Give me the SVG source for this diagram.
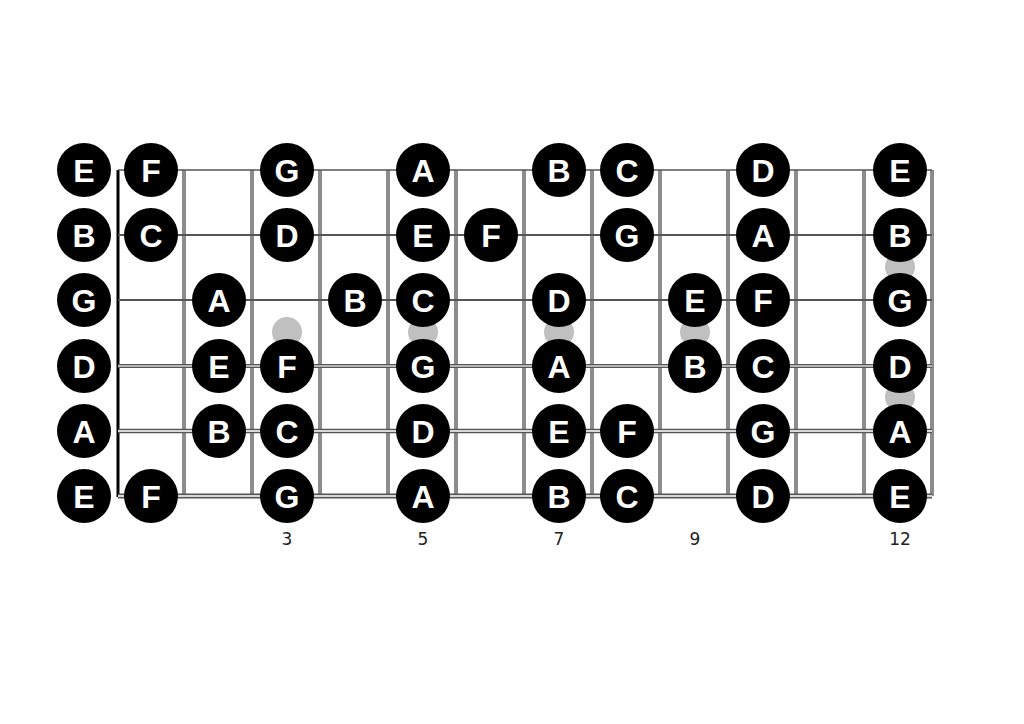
<svg xmlns="http://www.w3.org/2000/svg" width="1024" height="724" viewBox="0 0 1024 724">
<style>
.fret{stroke:#8c8c8c;stroke-width:4}
.str{stroke:#555;fill:none}
.core{stroke:#d8d8d8;fill:none}
.inlay{fill:#c0c0c0}
.note circle{fill:#000}
.note text{fill:#fff;font-family:"Liberation Sans",Arial,sans-serif;font-weight:bold;font-size:32px;text-anchor:middle}
.num{fill:#222;font-family:"DejaVu Sans",Verdana,sans-serif;font-size:17px;text-anchor:middle}
</style>
<rect width="1024" height="724" fill="#fff"/>
<g id="fretboard">
<g id="frets">
<line class="fret" x1="184" y1="170" x2="184" y2="496"/>
<line class="fret" x1="252" y1="170" x2="252" y2="496"/>
<line class="fret" x1="320" y1="170" x2="320" y2="496"/>
<line class="fret" x1="388" y1="170" x2="388" y2="496"/>
<line class="fret" x1="456" y1="170" x2="456" y2="496"/>
<line class="fret" x1="524" y1="170" x2="524" y2="496"/>
<line class="fret" x1="592" y1="170" x2="592" y2="496"/>
<line class="fret" x1="660" y1="170" x2="660" y2="496"/>
<line class="fret" x1="728" y1="170" x2="728" y2="496"/>
<line class="fret" x1="796" y1="170" x2="796" y2="496"/>
<line class="fret" x1="864" y1="170" x2="864" y2="496"/>
<line class="fret" x1="932" y1="170" x2="932" y2="496"/>
</g>
<line id="nut" x1="118" y1="170" x2="118" y2="497" stroke="#000" stroke-width="3"/>
<g id="inlays">
<circle class="inlay" cx="287" cy="332" r="15"/>
<circle class="inlay" cx="423" cy="332" r="15"/>
<circle class="inlay" cx="559" cy="332" r="15"/>
<circle class="inlay" cx="695" cy="332" r="15"/>
<circle class="inlay" cx="900" cy="267" r="15"/>
<circle class="inlay" cx="900" cy="397" r="15"/>
</g>
<g id="strings">
<line class="str" x1="118" y1="170" x2="932" y2="170" stroke-width="1.6"/>
<line class="str" x1="118" y1="235" x2="932" y2="235" stroke-width="1.8"/>
<line class="str" x1="118" y1="300" x2="932" y2="300" stroke-width="2.2"/>
<line class="str" x1="118" y1="366" x2="932" y2="366" stroke-width="4"/>
<line class="core" x1="118" y1="366" x2="932" y2="366" stroke-width="1.4"/>
<line class="str" x1="118" y1="431" x2="932" y2="431" stroke-width="4.4"/>
<line class="core" x1="118" y1="431" x2="932" y2="431" stroke-width="1.8"/>
<line class="str" x1="118" y1="496" x2="932" y2="496" stroke-width="5"/>
<line class="core" x1="118" y1="496" x2="932" y2="496" stroke-width="2.2"/>
</g>
</g>
<g id="notes">
<g id="s1">
<g class="note" id="n1-0"><circle cx="84" cy="170" r="27"/><text x="84" y="181.5">E</text></g>
<g class="note" id="n1-1"><circle cx="151" cy="170" r="27"/><text x="151" y="181.5">F</text></g>
<g class="note" id="n1-3"><circle cx="287" cy="170" r="27"/><text x="287" y="181.5">G</text></g>
<g class="note" id="n1-5"><circle cx="423" cy="170" r="27"/><text x="423" y="181.5">A</text></g>
<g class="note" id="n1-7"><circle cx="559" cy="170" r="27"/><text x="559" y="181.5">B</text></g>
<g class="note" id="n1-8"><circle cx="627" cy="170" r="27"/><text x="627" y="181.5">C</text></g>
<g class="note" id="n1-10"><circle cx="763" cy="170" r="27"/><text x="763" y="181.5">D</text></g>
<g class="note" id="n1-12"><circle cx="900" cy="170" r="27"/><text x="900" y="181.5">E</text></g>
</g>
<g id="s2">
<g class="note" id="n2-0"><circle cx="84" cy="235" r="27"/><text x="84" y="246.5">B</text></g>
<g class="note" id="n2-1"><circle cx="151" cy="235" r="27"/><text x="151" y="246.5">C</text></g>
<g class="note" id="n2-3"><circle cx="287" cy="235" r="27"/><text x="287" y="246.5">D</text></g>
<g class="note" id="n2-5"><circle cx="423" cy="235" r="27"/><text x="423" y="246.5">E</text></g>
<g class="note" id="n2-6"><circle cx="491" cy="235" r="27"/><text x="491" y="246.5">F</text></g>
<g class="note" id="n2-8"><circle cx="627" cy="235" r="27"/><text x="627" y="246.5">G</text></g>
<g class="note" id="n2-10"><circle cx="763" cy="235" r="27"/><text x="763" y="246.5">A</text></g>
<g class="note" id="n2-12"><circle cx="900" cy="235" r="27"/><text x="900" y="246.5">B</text></g>
</g>
<g id="s3">
<g class="note" id="n3-0"><circle cx="84" cy="300" r="27"/><text x="84" y="311.5">G</text></g>
<g class="note" id="n3-2"><circle cx="219" cy="300" r="27"/><text x="219" y="311.5">A</text></g>
<g class="note" id="n3-4"><circle cx="355" cy="300" r="27"/><text x="355" y="311.5">B</text></g>
<g class="note" id="n3-5"><circle cx="423" cy="300" r="27"/><text x="423" y="311.5">C</text></g>
<g class="note" id="n3-7"><circle cx="559" cy="300" r="27"/><text x="559" y="311.5">D</text></g>
<g class="note" id="n3-9"><circle cx="695" cy="300" r="27"/><text x="695" y="311.5">E</text></g>
<g class="note" id="n3-10"><circle cx="763" cy="300" r="27"/><text x="763" y="311.5">F</text></g>
<g class="note" id="n3-12"><circle cx="900" cy="300" r="27"/><text x="900" y="311.5">G</text></g>
</g>
<g id="s4">
<g class="note" id="n4-0"><circle cx="84" cy="366" r="27"/><text x="84" y="377.5">D</text></g>
<g class="note" id="n4-2"><circle cx="219" cy="366" r="27"/><text x="219" y="377.5">E</text></g>
<g class="note" id="n4-3"><circle cx="287" cy="366" r="27"/><text x="287" y="377.5">F</text></g>
<g class="note" id="n4-5"><circle cx="423" cy="366" r="27"/><text x="423" y="377.5">G</text></g>
<g class="note" id="n4-7"><circle cx="559" cy="366" r="27"/><text x="559" y="377.5">A</text></g>
<g class="note" id="n4-9"><circle cx="695" cy="366" r="27"/><text x="695" y="377.5">B</text></g>
<g class="note" id="n4-10"><circle cx="763" cy="366" r="27"/><text x="763" y="377.5">C</text></g>
<g class="note" id="n4-12"><circle cx="900" cy="366" r="27"/><text x="900" y="377.5">D</text></g>
</g>
<g id="s5">
<g class="note" id="n5-0"><circle cx="84" cy="431" r="27"/><text x="84" y="442.5">A</text></g>
<g class="note" id="n5-2"><circle cx="219" cy="431" r="27"/><text x="219" y="442.5">B</text></g>
<g class="note" id="n5-3"><circle cx="287" cy="431" r="27"/><text x="287" y="442.5">C</text></g>
<g class="note" id="n5-5"><circle cx="423" cy="431" r="27"/><text x="423" y="442.5">D</text></g>
<g class="note" id="n5-7"><circle cx="559" cy="431" r="27"/><text x="559" y="442.5">E</text></g>
<g class="note" id="n5-8"><circle cx="627" cy="431" r="27"/><text x="627" y="442.5">F</text></g>
<g class="note" id="n5-10"><circle cx="763" cy="431" r="27"/><text x="763" y="442.5">G</text></g>
<g class="note" id="n5-12"><circle cx="900" cy="431" r="27"/><text x="900" y="442.5">A</text></g>
</g>
<g id="s6">
<g class="note" id="n6-0"><circle cx="84" cy="496" r="27"/><text x="84" y="507.5">E</text></g>
<g class="note" id="n6-1"><circle cx="151" cy="496" r="27"/><text x="151" y="507.5">F</text></g>
<g class="note" id="n6-3"><circle cx="287" cy="496" r="27"/><text x="287" y="507.5">G</text></g>
<g class="note" id="n6-5"><circle cx="423" cy="496" r="27"/><text x="423" y="507.5">A</text></g>
<g class="note" id="n6-7"><circle cx="559" cy="496" r="27"/><text x="559" y="507.5">B</text></g>
<g class="note" id="n6-8"><circle cx="627" cy="496" r="27"/><text x="627" y="507.5">C</text></g>
<g class="note" id="n6-10"><circle cx="763" cy="496" r="27"/><text x="763" y="507.5">D</text></g>
<g class="note" id="n6-12"><circle cx="900" cy="496" r="27"/><text x="900" y="507.5">E</text></g>
</g>
</g>
<g id="fret-numbers">
<text class="num" x="287" y="545">3</text>
<text class="num" x="423" y="545">5</text>
<text class="num" x="559" y="545">7</text>
<text class="num" x="695" y="545">9</text>
<text class="num" x="900" y="545">12</text>
</g>
</svg>
